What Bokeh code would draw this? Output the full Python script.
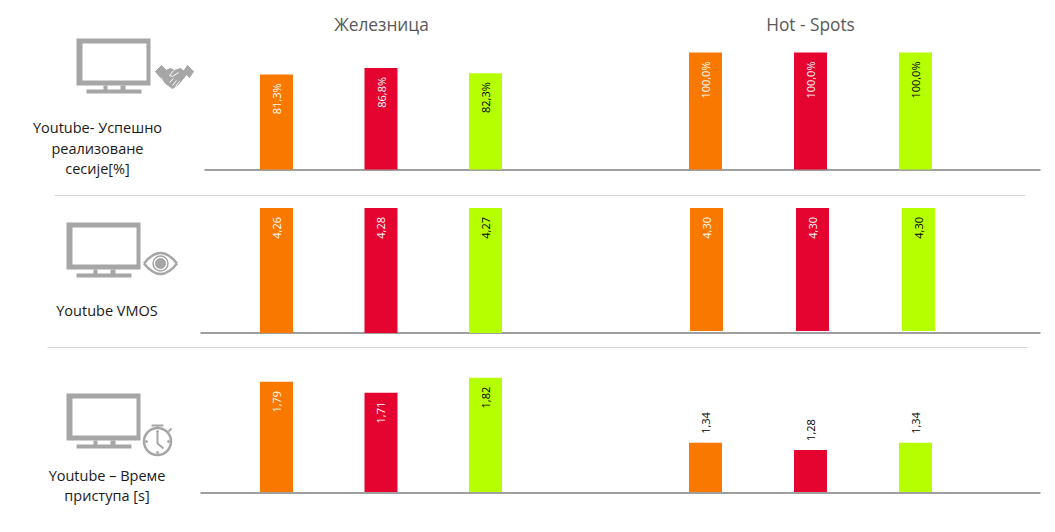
import numpy as np
from bokeh.core.properties import value
from bokeh.embed import file_html
from bokeh.models import Range1d
from bokeh.plotting import figure
from bokeh.resources import INLINE

# vrednosti: red -> grupa (Zeleznica, Hot-Spots)
grupe = ["Железница", "Hot - Spots"]
boje = ["#F97900", "#E5032F", "#B5FF00"]
boje_teksta = ["white", "white", "black"]

sesije_zel = [81.3, 86.8, 82.3]
sesije_hot = [100.0, 100.0, 100.0]
vmos_zel = [4.26, 4.28, 4.27]
vmos_hot = [4.30, 4.30, 4.30]
pristup_zel = [1.79, 1.71, 1.82]
pristup_hot = [1.34, 1.28, 1.34]

naslovi_redova = [
    ["Youtube- Успешно", "реализоване", "сесије[%]"],
    ["Youtube VMOS"],
    ["Youtube – Време", "приступа [s]"],
]

SIVA = "#A6A6A6"
FONT = value("Open Sans")
LEVO, DESNO, GORE, DOLE = 0, 1047, 0, 524

# koordinate platna su iste kao pikseli reference
f = figure(width=DESNO - LEVO, height=DOLE - GORE, output_backend="svg", toolbar_location=None,
           x_range=Range1d(LEVO, DESNO), y_range=Range1d(DOLE, GORE),
           x_axis_type=None, y_axis_type=None, min_border=0, outline_line_color=None)
f.grid.visible = False


def panel(ime, vrednosti, c0, korak, baza, px_po_jed, v0=0.0, maks=None, fmt="{:.2f}", spolja=False):
    """Jedan mali bar chart sa svojim x i y opsegom."""
    f.extra_x_ranges[ime] = Range1d((LEVO - c0) / korak, (DESNO - c0) / korak)
    f.extra_y_ranges[ime] = Range1d(v0 - (DOLE - baza) / px_po_jed, v0 + (baza - GORE) / px_po_jed)
    y = np.array(vrednosti)
    if maks is not None:
        y = np.minimum(y, maks)  # osa je odsecena na vrhu
    x = np.arange(len(y))
    f.vbar(x=x, top=y, bottom=v0, width=33 / korak, fill_color=boje, line_color=None,
           x_range_name=ime, y_range_name=ime)
    tekst = [fmt.format(v).replace(".", ",") for v in vrednosti]
    f.text(x=x, y=y, text=tekst, angle=np.pi / 2,
           text_align="left" if spolja else "right", text_baseline="middle",
           y_offset=-9 if spolja else 9,
           text_color="black" if spolja else boje_teksta,
           text_font=FONT, text_font_size="11px",
           x_range_name=ime, y_range_name=ime)


def monitor(dx, dy):
    f.quad(left=[76 + dx], right=[150 + dx], top=[38 + dy], bottom=[85 + dy], fill_color=SIVA, line_color=None)
    f.quad(left=[82 + dx], right=[146 + dx], top=[43 + dy], bottom=[80 + dy], fill_color="white", line_color=None)
    f.quad(left=[103 + dx, 120 + dx], right=[107 + dx, 125 + dx], top=[85 + dy] * 2, bottom=[90 + dy] * 2,
           fill_color=SIVA, line_color=None)
    f.quad(left=[86 + dx], right=[141 + dx], top=[89 + dy], bottom=[93 + dy], fill_color=SIVA, line_color=None)


def rukovanje():
    f.patch([155, 161, 166, 160], [71, 65, 70, 77], color=SIVA)
    f.patch([193, 187, 183, 189], [71, 65, 71, 77], color=SIVA)
    f.patch([163, 170, 174, 180, 184, 186, 178, 172, 165, 161],
            [71, 68, 70, 68, 71, 74, 84, 88, 83, 77], color=SIVA)
    f.multi_line([[173, 169, 172, 178], [169, 173], [172, 176], [175, 179]],
                 [[70, 75, 76, 72], [82, 78], [85, 80], [86, 81]], line_color="white", line_width=1)


def oko():
    f.quadratic(x0=[143.5, 143.5], y0=[263, 263], x1=[176.5, 176.5], y1=[263, 263],
                cx=[160, 160], cy=[242, 284], line_color=SIVA, line_width=2.5)
    f.circle(x=[160], y=[263], radius=7.5, fill_color=None, line_color=SIVA, line_width=1.5)
    f.circle(x=[160], y=[263], radius=5, color=SIVA)


def stoperica():
    f.circle(x=[157], y=[441], radius=13.5, fill_color="white", line_color=SIVA, line_width=2.5)
    f.multi_line([[151, 163], [157, 157], [168, 171], [157, 157, 163]],
                 [[425, 425], [425, 428], [431, 428], [432, 443, 448]],
                 line_color=SIVA, line_width=2)
    f.scatter(x=[157, 168, 157, 146], y=[431, 441, 452, 441], size=2, color=SIVA)


# separatori i bazne linije
f.line([54, 1025], [195, 195], line_color="#D9D9D9", line_width=1.2)
f.line([47, 1027], [347, 347], line_color="#D9D9D9", line_width=1.2)
f.line([204, 1040], [169.5, 169.5], line_color="#7F7F7F", line_width=1.3)
f.line([200, 1040], [332.5, 332.5], line_color="#7F7F7F", line_width=1.3)
f.line([200, 1040], [492.5, 492.5], line_color="#7F7F7F", line_width=1.3)

panel("ses_z", sesije_zel, 276, 104.5, 169, 1.17, fmt="{:.1f}%")
panel("ses_h", sesije_hot, 705, 105, 169, 1.17, fmt="{:.1f}%")
panel("vm_z", vmos_zel, 276, 104.5, 332.5, 125 / 4.26, maks=4.26)
panel("vm_h", vmos_hot, 706, 106, 330.5, 123 / 4.30, maks=4.30)
panel("pr_z", pristup_zel, 276, 104.5, 491.5, 136, v0=0.98)
panel("pr_h", pristup_hot, 705, 105, 491.5, 117, v0=0.92, spolja=True)

# naslovi grupa
f.text(x=[381, 810], y=[23.5, 23.5], text=grupe, text_align="center", text_baseline="middle",
       text_color="#595959", text_font=FONT, text_font_size="17.3px")

# ikone i opisi redova
monitor(0, 0)
monitor(-10, 184)
monitor(-10, 355)
rukovanje()
oko()
stoperica()

for linije, cx, y0, razmak in zip(naslovi_redova, [97, 106.5, 106.5], [127, 310, 475], [20.5, 0, 20]):
    f.text(x=[cx] * len(linije), y=[y0 + i * razmak for i in range(len(linije))], text=linije,
           text_align="center", text_baseline="middle", text_color="#1A1A1A",
           text_font=FONT, text_font_size="14.5px")

open("out.html", "w").write(file_html(f, INLINE))
